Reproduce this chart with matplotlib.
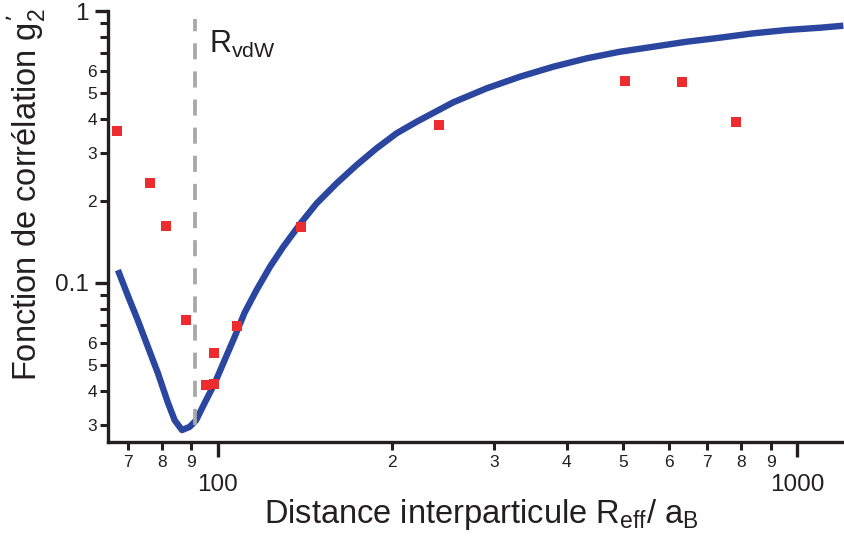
import matplotlib
matplotlib.use("Agg")
import matplotlib.pyplot as plt
from matplotlib.ticker import FixedLocator, FixedFormatter

plt.rcParams['font.family'] = ['Liberation Sans', 'DejaVu Sans']
plt.rcParams['mathtext.default'] = 'regular'

# ---- data ----
curve_x = [67.2, 69.9, 72.7, 75.7, 78.8, 81.9, 84.2, 86.7, 89.4, 91.7, 94.8,
           98.7, 102.7, 106.9, 111.2, 116.6, 123.0, 129.7, 138.9, 148.1,
           160.3, 173.6, 187.9, 203.5, 220.4, 254.9, 291.1, 332.3, 379.4,
           433.4, 494.6, 564.7, 645.0, 736.2, 840.6, 959.8, 1096.0, 1202.0]
curve_y = [0.1113, 0.0897, 0.0729, 0.0581, 0.0464, 0.0364, 0.0312, 0.0287,
           0.0295, 0.0312, 0.0360, 0.0426, 0.0519, 0.0633, 0.0776, 0.0940,
           0.1145, 0.1357, 0.1654, 0.1960, 0.2322, 0.2711, 0.3124, 0.3548,
           0.3913, 0.4613, 0.5193, 0.5731, 0.6237, 0.6697, 0.7082, 0.7388,
           0.7709, 0.7976, 0.8277, 0.8513, 0.8680, 0.8829]

exp_x = [67.0, 76.2, 81.5, 139.1, 88.1, 107.7, 98.5, 95.2, 98.5, 240.8,
         505.2, 633.8, 785.5]
exp_y = [0.3625, 0.2334, 0.1617, 0.1607, 0.0727, 0.0693, 0.0550, 0.0419,
         0.0423, 0.3816, 0.554, 0.549, 0.390]

r_vdw = 91.2
vline_y = [0.0300, 0.934]

x_major = [100, 1000]
x_major_labels = ["100", "1000"]
x_minor = [70, 80, 90, 200, 300, 400, 500, 600, 700, 800, 900]
x_minor_labels = ["7", "8", "9", "2", "3", "4", "5", "6", "7", "8", "9"]
y_major = [0.1, 1]
y_major_labels = ["0.1", "1"]
y_minor = [0.03, 0.04, 0.05, 0.06, 0.07, 0.08, 0.09,
           0.2, 0.3, 0.4, 0.5, 0.6, 0.7, 0.8, 0.9]
y_minor_labels = ["3", "4", "5", "6", "", "", "",
                  "2", "3", "4", "5", "6", "", "", ""]

xlim = (64.6, 1205)
ylim = (0.02594, 1.0)

# ---- figure ----
W, H = 844, 542
fig = plt.figure(figsize=(W / 100, H / 100), dpi=100)
L, R, B, T = 108, 844, 442, 11
ax = fig.add_axes([L / W, 1 - B / H, (R - L) / W, (B - T) / H])
ax.set_xscale('log')
ax.set_yscale('log')
ax.set_xlim(*xlim)
ax.set_ylim(*ylim)

ink = '#231f20'
ax.plot(curve_x, curve_y, color='#2a469f', lw=4.6, solid_capstyle='butt',
        solid_joinstyle='round', zorder=2)
ax.plot([r_vdw, r_vdw], vline_y, color='#a8a8a8', lw=2.7,
        dashes=(4.3, 3.2), zorder=3)
ax.plot(exp_x, exp_y, ls='none', marker='s', ms=7.9, mew=0,
        color='#ec2c2e', zorder=4)

for s in ['top', 'right']:
    ax.spines[s].set_visible(False)
for s in ['left', 'bottom']:
    ax.spines[s].set_linewidth(2.4)
    ax.spines[s].set_color(ink)

ax.xaxis.set_major_locator(FixedLocator(x_major))
ax.xaxis.set_major_formatter(FixedFormatter(x_major_labels))
ax.xaxis.set_minor_locator(FixedLocator(x_minor))
ax.xaxis.set_minor_formatter(FixedFormatter(x_minor_labels))
ax.yaxis.set_major_locator(FixedLocator(y_major))
ax.yaxis.set_major_formatter(FixedFormatter(y_major_labels))
ax.yaxis.set_minor_locator(FixedLocator(y_minor))
ax.yaxis.set_minor_formatter(FixedFormatter(y_minor_labels))

ax.tick_params(axis='x', which='major', direction='out', length=10.8,
               width=2.4, pad=12, labelsize=17.5, color=ink, labelcolor=ink)
ax.tick_params(axis='x', which='minor', direction='out', length=5.8,
               width=2.2, pad=3.5, labelsize=12.5, color=ink, labelcolor=ink)
ax.tick_params(axis='y', which='major', direction='out', length=9.6,
               width=2.4, pad=4.5, labelsize=17.5, color=ink, labelcolor=ink)
ax.tick_params(axis='y', which='minor', direction='out', length=5.8,
               width=2.2, pad=2.2, labelsize=12.5, color=ink, labelcolor=ink)

def px2ax(x, y):
    return (x - L) / (R - L), (B - y) / (B - T)

ax.text(*px2ax(264, 523), "Distance interparticule R$_{eff}$/ a$_B$",
        transform=ax.transAxes, ha='left', va='baseline', fontsize=23.5,
        color=ink, clip_on=False)
ax.text(*px2ax(36.7, 381), "Fonction de corrélation g$^{’}_2$",
        transform=ax.transAxes, ha='left', va='baseline', rotation=90,
        rotation_mode='anchor', fontsize=23.5, color=ink, clip_on=False)
ax.text(*px2ax(209.5, 53), "R$_{vdW}$", transform=ax.transAxes,
        ha='left', va='baseline', fontsize=22, color=ink, clip_on=False)

fig.savefig('out.png', dpi=100)
